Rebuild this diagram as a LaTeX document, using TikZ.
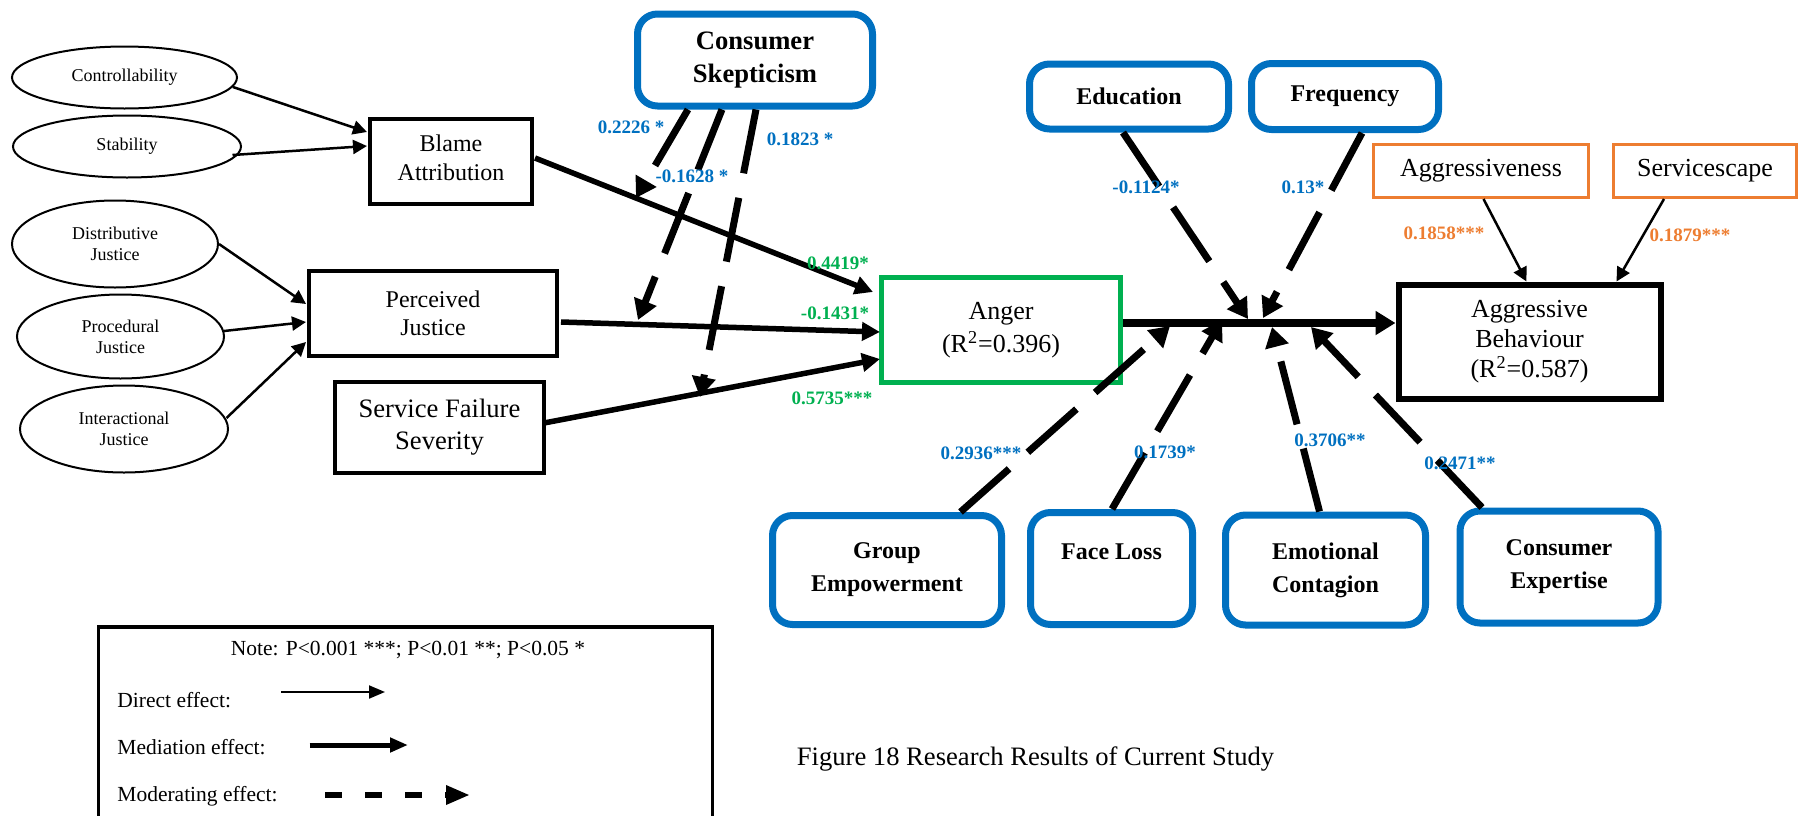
\documentclass[tikz,border=0pt]{standalone}
\usepackage{fontspec}
\setmainfont{Liberation Serif}
\usetikzlibrary{shapes.geometric,arrows.meta,calc}
\definecolor{modblue}{HTML}{0070C0}
\definecolor{medgreen}{HTML}{00B050}
\definecolor{ctrlorange}{HTML}{ED7D31}
\begin{document}
\begin{tikzpicture}[x=0.5pt,y=-0.5pt,
  ell/.style={ellipse, draw, line width=1pt, align=center, inner sep=0pt,
    font=\fontsize{9}{10.5}\selectfont},
  bbox/.style={draw, line width=2pt, align=center, inner sep=0pt},
  bluebox/.style={draw=modblue, line width=3.5pt, rounded corners=10pt, align=center,
    inner sep=0pt, font=\bfseries\fontsize{12}{16.5}\selectfont},
  orbox/.style={draw=ctrlorange, line width=1.5pt, inner sep=0pt,
    font=\fontsize{13}{15}\selectfont},
  direct/.style={line width=1.25pt, -{Triangle[length=7pt,width=7pt]}},
  mediate/.style={line width=2.75pt, -{Triangle[length=9pt,width=9pt]}},
  mainpath/.style={line width=3.75pt, -{Triangle[length=10pt,width=11.5pt]}},
  moderate/.style={line width=3.5pt, dash pattern=on 32.5pt off 12.5pt,
    -{Triangle[length=10pt,width=11.5pt]}},
  bluelab/.style={text=modblue, inner sep=0pt, font=\bfseries\fontsize{9.5}{11}\selectfont},
  greenlab/.style={text=medgreen, inner sep=0pt, font=\bfseries\fontsize{9.5}{11}\selectfont},
  orangelab/.style={text=ctrlorange, inner sep=0pt, font=\bfseries\fontsize{9.5}{11}\selectfont},
  legtext/.style={inner sep=0pt, font=\fontsize{10.75}{13}\selectfont}]

\useasboundingbox (0,0) rectangle (1806,815);
\clip (0,0) rectangle (1806,815);

% antecedents
\node[ell, minimum width=112.5pt, minimum height=31pt] (ctrl) at (124.5,77.5) {Controllability};
\node[ell, minimum width=114pt, minimum height=31pt] (stab) at (127,146.5) {Stability};
\node[ell, minimum width=103pt, minimum height=43.5pt] (dist) at (115,244) {Distributive\\Justice};
\node[ell, minimum width=103.5pt, minimum height=42pt] (proc) at (120.5,336.5) {Procedural\\Justice};
\node[ell, minimum width=104pt, minimum height=43.5pt] (inter) at (124,429) {Interactional\\Justice};

% mediators and outcomes
\node[bbox, minimum width=81pt, minimum height=42.5pt, font=\fontsize{12}{14.5}\selectfont,
  text depth=4pt] (blame) at (451,161.5) {Blame\\Attribution};
\node[bbox, minimum width=124pt, minimum height=42.5pt, font=\fontsize{12}{14}\selectfont] (perc) at (433,313.5) {Perceived\\Justice};
\node[bbox, minimum width=104.5pt, minimum height=45.5pt, font=\fontsize{13.3}{16}\selectfont] (sfs) at (439.5,427.5) {Service Failure\\Severity};
\node[draw=medgreen, line width=2.5pt, minimum width=119.5pt, minimum height=52.5pt, align=center, inner sep=0pt,
  font=\fontsize{13}{16.5}\selectfont] (anger) at (1001,330) {Anger\\(R\textsuperscript{2}=0.396)};
\node[bbox, line width=3pt, minimum width=131pt, minimum height=57pt, font=\fontsize{13}{15}\selectfont] (ab) at (1529.5,341.5) {Aggressive\\Behaviour\\(R\textsuperscript{2}=0.587)};

% moderators
\node[bluebox, minimum width=117.5pt, minimum height=46pt, font=\bfseries\fontsize{13.3}{16.5}\selectfont] (cs) at (755,60) {Consumer\\Skepticism};
\node[bluebox, minimum width=99.5pt, minimum height=32.5pt] (edu) at (1129,96.5) {Education};
\node[bluebox, minimum width=93.5pt, minimum height=33pt] (freq) at (1345,96.5) {Frequency};
\node[bluebox, minimum width=114.5pt, minimum height=54.5pt] (ge) at (887,570) {Group\\Empowerment};
\node[bluebox, minimum width=81pt, minimum height=56pt] (fl) at (1111.5,568.5) {Face Loss\\\mbox{}};
\node[bluebox, minimum width=100pt, minimum height=55pt] (ec) at (1325.5,570) {Emotional\\Contagion};
\node[bluebox, minimum width=99pt, minimum height=56pt] (ce) at (1559,567) {Consumer\\Expertise};

% controls
\node[orbox, minimum width=107.5pt, minimum height=26.5pt] (aggr) at (1481,171) {Aggressiveness};
\node[orbox, minimum width=91.5pt, minimum height=26.5pt] (serv) at (1705,171) {Servicescape};

% direct effects
\draw[direct] (ctrl.-5) -- ($(blame.west)+(-1,-29.5)$);
\draw[direct] ($(stab)+(105.5,8.5)$) -- ($(blame.west)+(-1,-15.5)$);
\draw[direct] (dist.east) -- ($(perc.west)+(-1,-9.5)$);
\draw[direct] ($(proc.east)+(-1,-5.5)$) -- ($(perc.west)+(-1,8.5)$);
\draw[direct] ($(inter)+(102.5,-11)$) -- ($(perc.west)+(-1,28.5)$);
\draw[direct] ($(aggr.south)+(2.5,0)$) -- ($(ab.north)+(-3,0)$);
\draw[direct] ($(serv.south)+(-41,0)$) -- ($(ab.north)+(87,0)$);

% mediation paths
\draw[mediate] ($(blame.east)+(1,-3.5)$) -- ($(anger.west)+(-6,-38)$);
\draw[mediate] ($(perc.east)+(2,8.5)$) -- ($(anger.west)+(1,2)$);
\draw[mediate] ($(sfs.east)+(-2,-4.5)$) -- ($(anger.west)+(1,29)$);
\draw[mainpath] ($(anger.east)+(0,-7)$) -- ($(ab.west)+(0,-18.5)$);

% moderating effects: points on the paths they act upon
\coordinate (t1) at (636,198);
\coordinate (t2) at (638,320);
\coordinate (t3) at (700,397);
\coordinate (tedu) at (1248,319);
\coordinate (tfreq) at (1263,318);
\coordinate (tge) at (1170,326);
\coordinate (tfl) at (1222,320);
\coordinate (tec) at (1272,327);
\coordinate (tce) at (1311,327);

\draw[moderate] ($(cs.south)+(-67,0)$) -- (t1);
\draw[moderate] ($(cs.south)+(-33,0)$) -- (t2);
\draw[moderate] ($(cs.south)+(1,0)$) -- (t3);
\draw[moderate] ($(edu.south)+(-6,0)$) -- (tedu);
\draw[moderate] ($(freq.south)+(17,0)$) -- (tfreq);
\draw[moderate] ($(ge.north)+(73.5,0)$) -- (tge);
\draw[moderate] ($(fl.north)+(0.5,0)$) -- (tfl);
\draw[moderate] ($(ec.north)+(-6,0)$) -- (tec);
\draw[moderate] ($(ce.north)+(-77,0)$) -- (tce);

% coefficients
\node[greenlab] (g1) at (838,263) {0.4419*};
\node[greenlab] (g2) at (835,313) {-0.1431*};
\node[greenlab] (g3) at (832,398) {0.5735***};
\node[bluelab] (b1) at (631,127) {0.2226 *};
\node[bluelab] (b2) at (692,176) {-0.1628 *};
\node[bluelab] (b3) at (800,139) {0.1823 *};
\node[bluelab] (b4) at (1146,187) {-0.1124*};
\node[bluelab] (b5) at (1303,187) {0.13*};
\node[bluelab] (b6) at (981,453) {0.2936***};
\node[bluelab] (b7) at (1165,452) {0.1739*};
\node[bluelab] (b8) at (1330,440) {0.3706**};
\node[bluelab] (b9) at (1460,463) {0.2471**};
\node[orangelab] (o1) at (1444,233) {0.1858***};
\node[orangelab] (o2) at (1690,235) {0.1879***};

% legend
\node[draw, line width=1.75pt, minimum width=307pt, minimum height=110pt, anchor=north west, inner sep=0pt] (legend) at (96.6,625) {};
\node[legtext] (note) at (408,650) {Note: P<0.001 ***; P<0.01 **; P<0.05 *};
\node[legtext, anchor=west] (ldir) at (117,700) {Direct effect:};
\node[legtext, anchor=west] (lmed) at (117,747) {Mediation effect:};
\node[legtext, anchor=west] (lmod) at (117,796) {Moderating effect:};
\coordinate (d0) at (281,692);  \coordinate (d1) at (385,692);
\coordinate (m0) at (309.5,745); \coordinate (m1) at (408,745);
\coordinate (o0) at (325,795);  \coordinate (o1e) at (470,795);
\draw[line width=1pt, -{Triangle[length=8pt,width=6.5pt]}] (d0) -- (d1);
\draw[line width=2.5pt, -{Triangle[length=9pt,width=7pt]}] (m0) -- (m1);
\draw[line width=3pt, dash pattern=on 8.5pt off 11.5pt, -{Triangle[length=12pt,width=9pt]}] (o0) -- (o1e);

% caption
\node[inner sep=0pt, font=\fontsize{13.3}{16}\selectfont] (caption) at (1035.5,759) {Figure 18 Research Results of Current Study};

\end{tikzpicture}
\end{document}
